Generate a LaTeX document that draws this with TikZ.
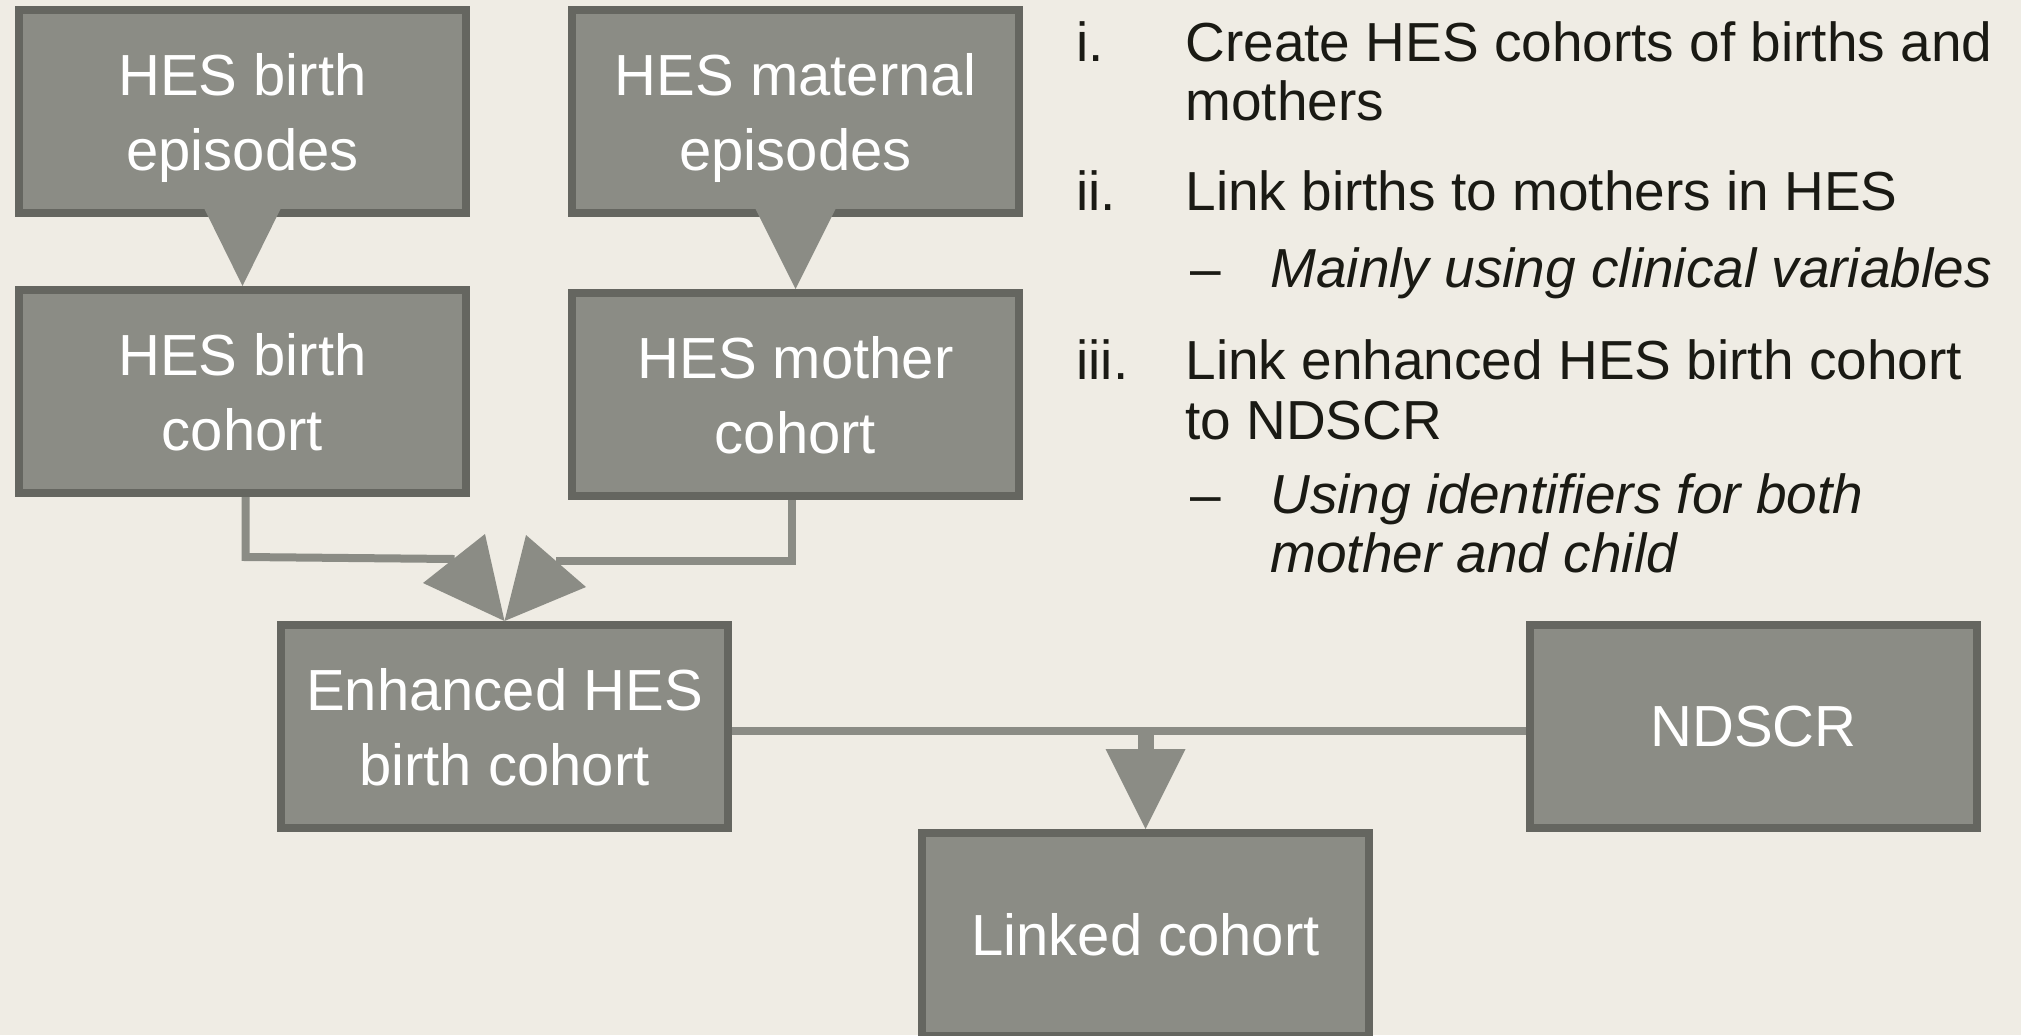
\documentclass[tikz,border=0pt]{standalone}
\usepackage{fontspec}
\setmainfont{Liberation Sans}
\usetikzlibrary{calc}

\definecolor{bgc}{HTML}{EFECE4}
\definecolor{boxc}{HTML}{8B8C85}
\definecolor{edgec}{HTML}{656660}
\definecolor{inkc}{HTML}{1A1A14}

\tikzset{
	stage/.style={draw=edgec, fill=boxc, line width=4pt, inner sep=0pt,
		minimum width=223.5pt, minimum height=101.5pt, align=center,
		text depth=-3pt, text=white, font=\fontsize{29}{37.5}\selectfont},
	link/.style={draw=boxc, line width=4pt},
	head/.style={fill=boxc},
	note/.style={anchor=base west, inner sep=0pt, text=inkc,
		font=\fontsize{27.5}{29}\selectfont},
}

\begin{document}
\begin{tikzpicture}[x=0.5pt, y=-0.5pt]
			\fill[bgc] (0,0) rectangle (2021,1035);
			\useasboundingbox (0,0) rectangle (2021,1035);

			% boxes
			\node(be)  [stage] at (242.5,111.5) {HES birth\\episodes};
			\node(me)  [stage] at (795.5,111.5) {HES maternal\\episodes};
			\node(bc)  [stage] at (242.5,391.5) {HES birth\\cohort};
			\node(mc)  [stage] at (795.5,394.5) {HES mother\\cohort};
			\node(enh) [stage] at (504.5,726.5) {Enhanced HES\\birth cohort};
			\node(nds) [stage] at (1753.5,726.5) {NDSCR};
			\node(lnk) [stage] at (1145.5,934.5) {Linked cohort};

			% connectors
			\fill[head] ($(be.south)+(-38,-8)$) -- ($(be.south)+(38,-8)$) -- (bc.north) -- cycle;
			\fill[head] ($(me.south)+(-40,-8)$) -- ($(me.south)+(40,-8)$) -- (mc.north) -- cycle;

			\draw[link] ($(bc.south)+(3,0)$) -- ++(0,60) -- ($(enh.north)+(-50,-62)$);
			\draw[link] ($(mc.south)+(-4,0)$) -- ++(0,61) -- ($(enh.north)+(51,-60)$);
			\fill[head] ($(enh.north)+(-81.5,-38)$) -- ($(enh.north)+(-19.5,-87)$) -- (enh.north) -- cycle;
			\fill[head] ($(enh.north)+(21.5,-86)$) -- ($(enh.north)+(81.5,-34)$) -- (enh.north) -- cycle;

			\draw[link] ($(enh.east)+(0,4)$) -- ($(nds.west)+(0,4)$);
			\draw[link, line width=8pt] ($(lnk.north)+(0,-99)$) -- ($(lnk.north)+(0,-79)$);
			\fill[head] ($(lnk.north)+(-40,-80)$) -- ($(lnk.north)+(40,-80)$) -- (lnk.north) -- cycle;

			% steps
			\node(n1)  [note] at (1076,61) {i.};
			\node(t1a) [note] at (1185,61) {Create HES cohorts of births and};
			\node(t1b) [note] at (1185,120) {mothers};
			\node(n2)  [note] at (1076,210) {ii.};
			\node(t2)  [note] at (1185,210) {Link births to mothers in HES};
			\node(d2)  [note] at (1190,287) {–};
			\node(s2)  [note, font=\fontsize{27.5}{29}\selectfont\itshape] at (1270,287) {Mainly using clinical variables};
			\node(n3)  [note] at (1076,379) {iii.};
			\node(t3a) [note] at (1185,379) {Link enhanced HES birth cohort};
			\node(t3b) [note] at (1185,439) {to NDSCR};
			\node(d3)  [note] at (1190,513) {–};
			\node(s3a) [note, font=\fontsize{27.5}{29}\selectfont\itshape] at (1270,513) {Using identifiers for both};
			\node(s3b) [note, font=\fontsize{27.5}{29}\selectfont\itshape] at (1270,572) {mother and child};
\end{tikzpicture}
\end{document}
